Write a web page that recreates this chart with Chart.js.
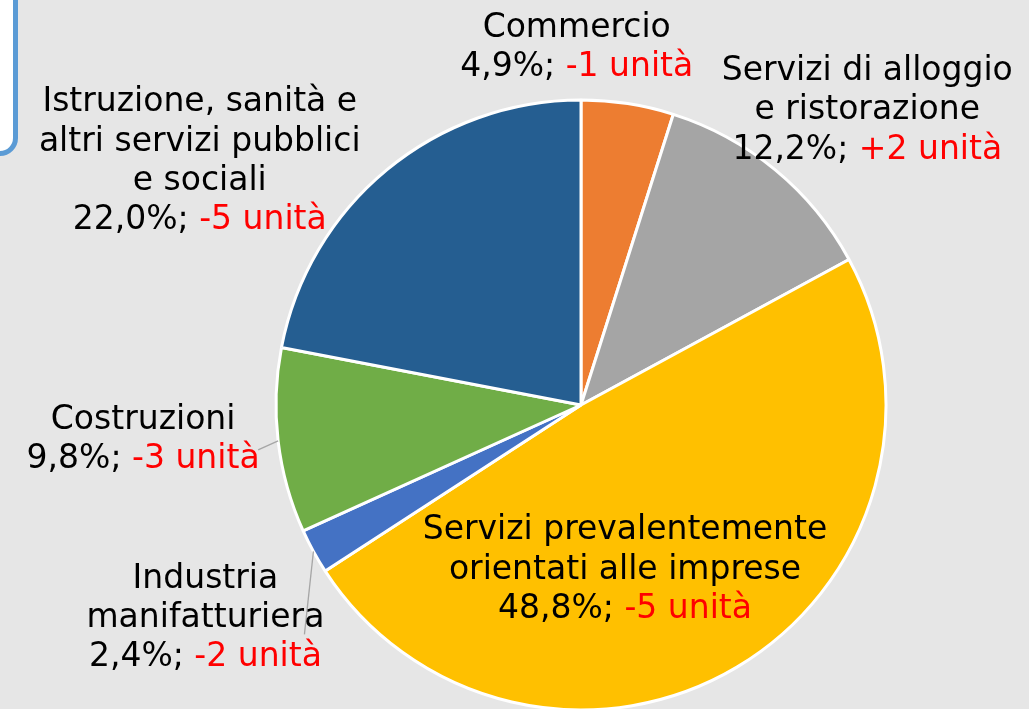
<!DOCTYPE html>
<html><head><meta charset="utf-8">
<script src="https://cdn.jsdelivr.net/npm/chart.js@4/dist/chart.umd.min.js"></script>
<style>
html,body{margin:0;padding:0;background:#e6e6e6;overflow:hidden;}
#wrap{position:relative;width:1029px;height:709px;}
#box{position:absolute;left:-200px;top:-30px;width:208px;height:176px;border:5px solid #5b9bd5;border-radius:18px;background:#fff;}
canvas{position:absolute;left:0;top:0;}
</style></head><body>
<div id="wrap"><div id="box"></div><canvas id="c" width="1029" height="709"></canvas></div>
<script>
const categories = ["Commercio","Servizi di alloggio e ristorazione","Servizi prevalentemente orientati alle imprese","Industria manifatturiera","Costruzioni","Istruzione, sanità e altri servizi pubblici e sociali"];
const shares = [4.9, 12.2, 48.8, 2.4, 9.8, 22.0];
const shareLabels = ["4,9%","12,2%","48,8%","2,4%","9,8%","22,0%"];
const unitChanges = ["-1 unità","+2 unità","-5 unità","-2 unità","-3 unità","-5 unità"];
const nameLines = [["Commercio"],["Servizi di alloggio","e ristorazione"],["Servizi prevalentemente","orientati alle imprese"],["Industria","manifatturiera"],["Costruzioni"],["Istruzione, sanità e","altri servizi pubblici","e sociali"]];
const colors = ["#ed7d31","#a5a5a5","#ffc000","#4472c4","#70ad47","#255e91"];

// label placement: offsets (px) from the arc's mid point at radius factor rf
const labelLayout = [
  {rf:1, dx:-51, dy:-56, leader:false},
  {rf:1, dx:92, dy:-59, leader:false},
  {rf:0.5, dx:-34, dy:34, leader:false},
  {rf:1, dx:-108, dy:67, leader:true, lx:-9, ly:83},
  {rf:1, dx:-135, dy:-1, leader:true, lx:-20, ly:9},
  {rf:1, dx:-187, dy:-8, leader:false}
];

const FONT = '33px "DejaVu Sans"';
const LINE_H = 39.3;

const labelPlugin = {
  id:'pieLabels',
  afterDatasetsDraw(chart){
    const ctx = chart.ctx;
    const meta = chart.getDatasetMeta(0);
    ctx.save();
    ctx.font = FONT;
    ctx.textBaseline = 'middle';
    meta.data.forEach((arc, i) => {
      const p = arc.getProps(['x','y','startAngle','endAngle','outerRadius'], true);
      const mid = (p.startAngle + p.endAngle)/2;
      const L = labelLayout[i];
      const ax = p.x + Math.cos(mid)*p.outerRadius*L.rf;
      const ay = p.y + Math.sin(mid)*p.outerRadius*L.rf;
      if (L.leader) {
        ctx.strokeStyle = '#a6a6a6';
        ctx.lineWidth = 1.3;
        ctx.beginPath();
        ctx.moveTo(ax, ay);
        ctx.lineTo(ax + L.lx, ay + L.ly);
        ctx.stroke();
      }
      const cx = ax + L.dx, cy = ay + L.dy;
      const lines = nameLines[i].map(t => [{t, c:'#000'}]);
      lines.push([{t: shareLabels[i] + '; ', c:'#000'}, {t: unitChanges[i], c:'#ff0000'}]);
      const top = cy - (lines.length-1)*LINE_H/2;
      lines.forEach((segs, k) => {
        const w = segs.reduce((s, g) => s + ctx.measureText(g.t).width, 0);
        let x = cx - w/2;
        const y = top + k*LINE_H;
        segs.forEach(g => {
          ctx.fillStyle = g.c;
          ctx.textAlign = 'left';
          ctx.fillText(g.t, x, y);
          x += ctx.measureText(g.t).width;
        });
      });
    });
    ctx.restore();
  }
};

new Chart(document.getElementById('c'), {
  type:'pie',
  data:{labels:categories, datasets:[{data:shares, backgroundColor:colors, borderColor:'#ffffff', borderWidth:3}]},
  options:{
    responsive:false, animation:false,
    radius:305,
    layout:{padding:{left:133, right:0, top:101, bottom:0}},
    plugins:{legend:{display:false}, tooltip:{enabled:false}}
  },
  plugins:[labelPlugin]
});
</script>
</body></html>
